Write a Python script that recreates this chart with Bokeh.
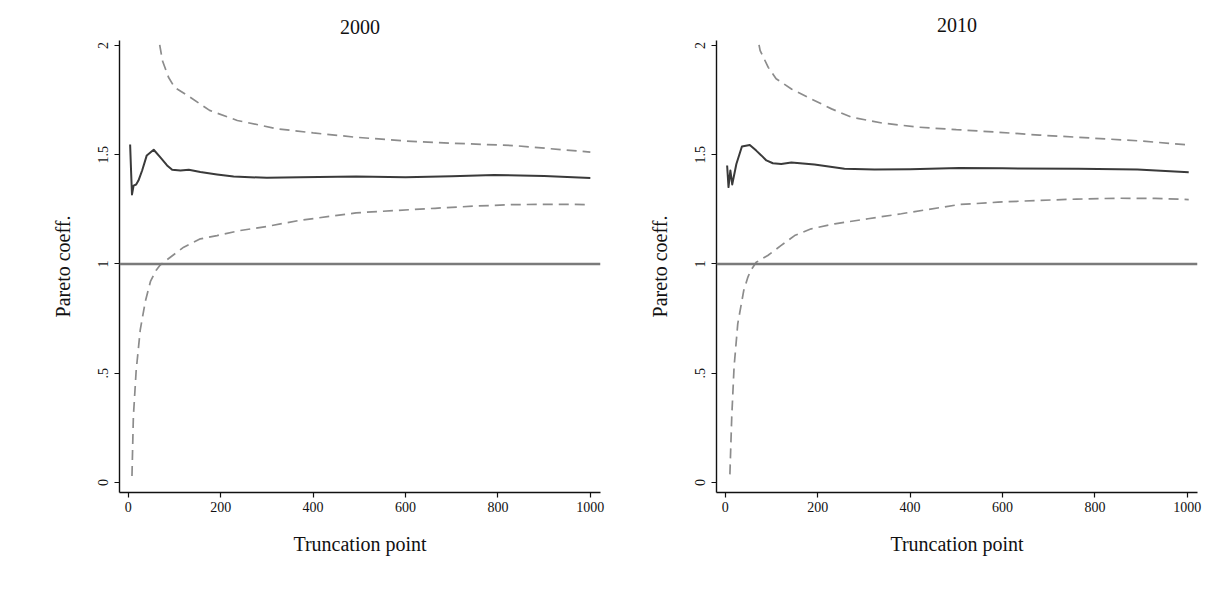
from bokeh.plotting import figure
from bokeh.layouts import row
from bokeh.models import Span, FixedTicker, Range1d
from bokeh.embed import file_html
from bokeh.resources import INLINE

# ---------------- data ----------------
# Panel 2000
est_2000_x = [4, 6, 8, 11.5, 17, 22, 30, 40, 55, 69, 84, 95, 113, 131, 156, 192, 228,
              264, 300, 372, 493, 600, 700, 792, 900, 1000]
est_2000_y = [1.547, 1.428, 1.318, 1.359, 1.364, 1.382, 1.428, 1.497, 1.523, 1.489, 1.451,
              1.431, 1.428, 1.431, 1.421, 1.410, 1.400, 1.397, 1.395, 1.397, 1.400, 1.397,
              1.402, 1.407, 1.403, 1.394]
upper_2000_x = [68, 74, 87, 100, 134, 176, 236, 322, 400, 493, 600, 700, 835, 1000]
upper_2000_y = [2.003, 1.93, 1.855, 1.809, 1.763, 1.703, 1.657, 1.619, 1.600, 1.580,
                1.563, 1.553, 1.542, 1.512]
lower_2000_x = [8, 11, 17, 26, 37, 48, 60, 69, 91, 120, 156, 192, 242, 300, 372, 493,
                580, 664, 750, 835, 920, 1000]
lower_2000_y = [0.03, 0.30, 0.51, 0.70, 0.83, 0.92, 0.97, 0.995, 1.031, 1.077, 1.115,
                1.130, 1.153, 1.172, 1.200, 1.234, 1.245, 1.255, 1.265, 1.272, 1.273, 1.272]

# Panel 2010
est_2010_x = [4, 7, 11, 15, 24, 36, 53, 67, 78, 89, 103, 121, 143, 193, 258, 323, 400,
              506, 600, 764, 892, 1003]
est_2010_y = [1.451, 1.352, 1.428, 1.364, 1.458, 1.538, 1.545, 1.519, 1.497, 1.474,
              1.461, 1.458, 1.465, 1.455, 1.436, 1.432, 1.434, 1.439, 1.438, 1.436,
              1.433, 1.420]
upper_2010_x = [73, 75.5, 93, 110, 144, 179, 230, 273, 340, 419, 500, 592, 680, 764, 900, 1003]
upper_2010_y = [2.003, 1.977, 1.90, 1.848, 1.80, 1.763, 1.71, 1.672, 1.645, 1.626, 1.615,
                1.603, 1.59, 1.580, 1.563, 1.545]
lower_2010_x = [10, 14, 19, 27, 40, 49, 55, 67, 92, 121, 150, 186, 237, 309, 381, 506,
                590, 677, 760, 850, 930, 1003]
lower_2010_y = [0.037, 0.30, 0.528, 0.726, 0.879, 0.94, 0.97, 1.008, 1.039, 1.085, 1.130,
                1.161, 1.184, 1.207, 1.23, 1.272, 1.283, 1.291, 1.297, 1.301, 1.300, 1.295]

x_ticks = [0, 200, 400, 600, 800, 1000]
y_ticks = [0, 0.5, 1, 1.5, 2]
y_tick_labels = {0: "0", 0.5: ".5", 1: "1", 1.5: "1.5", 2: "2"}
titles = ["2000", "2010"]
x_title = "Truncation point"
y_title = "Pareto coeff."

FONT = "Liberation Serif"


def make_panel(title, ex, ey, ux, uy, lx, ly, width, left_border, right_border,
               title_standoff):
    p = figure(width=width, height=588, output_backend="svg", toolbar_location=None,
               x_range=Range1d(-19, 1022), y_range=Range1d(-0.046, 2.023),
               min_border_left=left_border, min_border_right=right_border,
               min_border_top=40, min_border_bottom=96)
    p.title.text = title
    p.title.align = "center"
    p.title.text_font = FONT
    p.title.text_font_size = "20px"
    p.title.text_font_style = "normal"
    p.title.text_color = "#111111"
    p.title.standoff = title_standoff
    p.outline_line_color = None
    p.grid.visible = False
    p.background_fill_color = "white"
    p.border_fill_color = "white"

    for ax in (p.xaxis[0], p.yaxis[0]):
        ax.axis_line_color = "#111111"
        ax.axis_line_width = 1.4
        ax.major_tick_line_color = "#111111"
        ax.major_tick_line_width = 1.2
        ax.major_tick_out = 5
        ax.major_tick_in = 0
        ax.minor_tick_line_color = None
        ax.major_label_text_font = FONT
        ax.major_label_text_font_size = "14px"
        ax.major_label_text_color = "#111111"
        ax.axis_label_text_font = FONT
        ax.axis_label_text_font_size = "20px"
        ax.axis_label_text_font_style = "normal"
        ax.axis_label_text_color = "#111111"

    p.xaxis.ticker = FixedTicker(ticks=x_ticks)
    p.xaxis.major_label_standoff = 4
    p.xaxis.axis_label = x_title
    p.xaxis.axis_label_standoff = 18

    p.yaxis.ticker = FixedTicker(ticks=y_ticks)
    p.yaxis.major_label_overrides = y_tick_labels
    p.yaxis.major_label_orientation = "vertical"
    p.yaxis.major_label_standoff = 6
    p.yaxis.axis_label = y_title
    p.yaxis.axis_label_standoff = 22

    p.add_layout(Span(location=1, dimension="width", line_color="#7a7a7a", line_width=2.5))

    p.line(ux, uy, line_color="#8c8c8c", line_width=1.7, line_dash="10 6")
    p.line(lx, ly, line_color="#8c8c8c", line_width=1.7, line_dash="10 6")
    p.line(ex, ey, line_color="#3a3a3a", line_width=2.0, line_join="round")
    return p


p1 = make_panel(titles[0], est_2000_x, est_2000_y, upper_2000_x, upper_2000_y,
                lower_2000_x, lower_2000_y, 608, 119, 8, 14)
p2 = make_panel(titles[1], est_2010_x, est_2010_y, upper_2010_x, upper_2010_y,
                lower_2010_x, lower_2010_y, 600, 108, 11, 17)

layout = row(p1, p2)
open("out.html", "w").write(file_html(layout, INLINE))
